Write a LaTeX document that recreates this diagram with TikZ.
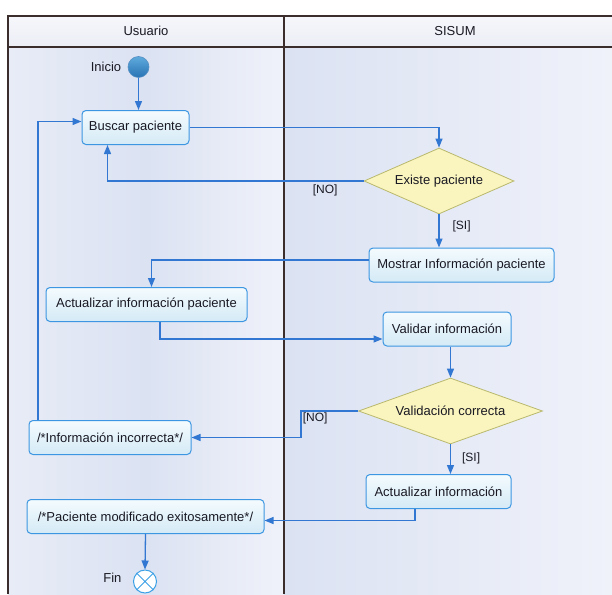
\documentclass[tikz,border=0pt]{standalone}
\usepackage{fontspec}
\setmainfont{Liberation Sans}
\usetikzlibrary{shapes.geometric,arrows.meta,positioning,calc}
\definecolor{flow}{RGB}{50,120,210}
\definecolor{boxline}{RGB}{60,150,225}
\definecolor{boxtop}{RGB}{244,251,254}
\definecolor{boxbot}{RGB}{212,234,246}
\definecolor{decfill}{RGB}{250,244,190}
\definecolor{decline}{RGB}{185,185,110}
\definecolor{hdrtop}{RGB}{246,247,251}
\definecolor{hdrbot}{RGB}{236,238,246}
\definecolor{laneA}{RGB}{232,236,247}
\definecolor{laneB}{RGB}{219,226,242}
\definecolor{laneC}{RGB}{240,242,250}
\definecolor{frame}{RGB}{60,45,45}
\definecolor{txt}{RGB}{25,25,35}
\definecolor{starttop}{RGB}{95,170,220}
\definecolor{startbot}{RGB}{40,115,180}
\definecolor{finline}{RGB}{60,160,230}
\begin{document}
\begin{tikzpicture}[x=1pt,y=-1pt,
  every node/.style={font=\fontsize{13}{15}\selectfont, text=txt},
  act/.style={draw=boxline, line width=1pt, rounded corners=4pt, top color=boxtop, bottom color=boxbot, minimum height=34pt, inner sep=2pt},
  dec/.style={diamond, draw=decline, fill=decfill, line width=0.8pt, inner sep=0pt, minimum height=66pt},
  flowline/.style={draw=flow, line width=1.3pt, -{Triangle[length=9pt,width=7pt]}},
  guard/.style={inner sep=1pt, font=\fontsize{12}{14}\selectfont},
  framel/.style={draw=frame, line width=1.1pt}
]
\useasboundingbox (0,0) rectangle (612,594);
\fill[white] (0,0) rectangle (612,594);
\shade[top color=hdrtop,bottom color=hdrbot] (8,16) rectangle (612,47);
\shade[left color=laneA, right color=laneC, middle color=laneB] (8,47) rectangle (284,594);
\shade[left color=laneB, right color=laneC] (284,47) rectangle (612,594);
\draw[framel] (612,16) -- (8,16) -- (8,594);
\draw[framel] (8,47) -- (612,47);
\draw[framel] (284,16) -- (284,594);
\node (hu) at (146,31) {Usuario};
\node (hs) at (455,31) {SISUM};

\node[circle, top color=starttop, bottom color=startbot, draw=startbot!80!white, line width=0.6pt, minimum size=21pt, inner sep=0pt] (inicio) at (138.5,67) {};
\node[left=3pt of inicio] (inicioL) {Inicio};
\node[act, minimum width=107pt] (buscar) at (135.5,127.5) {Buscar paciente};
\node[dec, minimum width=150pt, aspect=2.3] (existe) at (439,181) {Existe paciente};
\node[act, minimum width=185pt] (mostrar) at (461.5,265) {Mostrar Información paciente};
\node[act, minimum width=201pt] (actpac) at (146.5,304.5) {Actualizar información paciente};
\node[act, minimum width=128pt] (validar) at (447,329) {Validar información};
\node[dec, minimum width=184pt, aspect=2.8] (valid) at (450.5,411) {Validación correcta};
\node[act, minimum width=162pt] (incorr) at (110,437.5) {/*Información incorrecta*/};
\node[act, minimum width=145pt] (actinfo) at (438.5,491.5) {Actualizar información};
\node[act, minimum width=237pt] (modif) at (145.5,516.5) {/*Paciente modificado exitosamente*/};
\node[circle, draw=finline, fill=white, minimum size=23pt, inner sep=0pt, line width=1pt] (fin) at (145,581.5) {};
\draw[finline, line width=1pt] (fin.north east) -- (fin.south west) (fin.north west) -- (fin.south east);
\node[left=8pt of fin, yshift=4pt] (finL) {Fin};

\coordinate (c1) at ([xshift=-28pt]buscar.south);
\draw[flowline] (inicio.south) -- (inicio.south |- buscar.north);
\draw[flowline] (buscar.east) -| (existe.north);
\draw[flowline] (existe.west) -| node[pos=0.075, below, guard, yshift=-2pt] {[NO]} (c1);
\draw[flowline] (existe.south) -- node[pos=0.35, right=12pt, guard] {[SI]} (existe.south |- mostrar.north);
\draw[flowline] ([yshift=5pt]mostrar.west) -| ([xshift=5pt]actpac.north);
\draw[flowline] ([xshift=13.5pt]actpac.south) |- ([yshift=-10pt]validar.west);
\draw[flowline] (valid.north |- validar.south) -- (valid.north);
\draw[flowline] (valid.west) -- ++(-57,0) node[below right, guard] {[NO]} |- (incorr.east);
\draw[flowline] ([xshift=-72pt]incorr.north) |- ([yshift=6pt]buscar.west);
\draw[flowline] (valid.south) -- node[pos=0.48, right=10pt, guard] {[SI]} (valid.south |- actinfo.north);
\draw[flowline] ([xshift=-23.5pt]actinfo.south) |- ([yshift=-4pt]modif.east);
\draw[flowline] (modif.south) -- (fin.north);
\end{tikzpicture}
\end{document}
